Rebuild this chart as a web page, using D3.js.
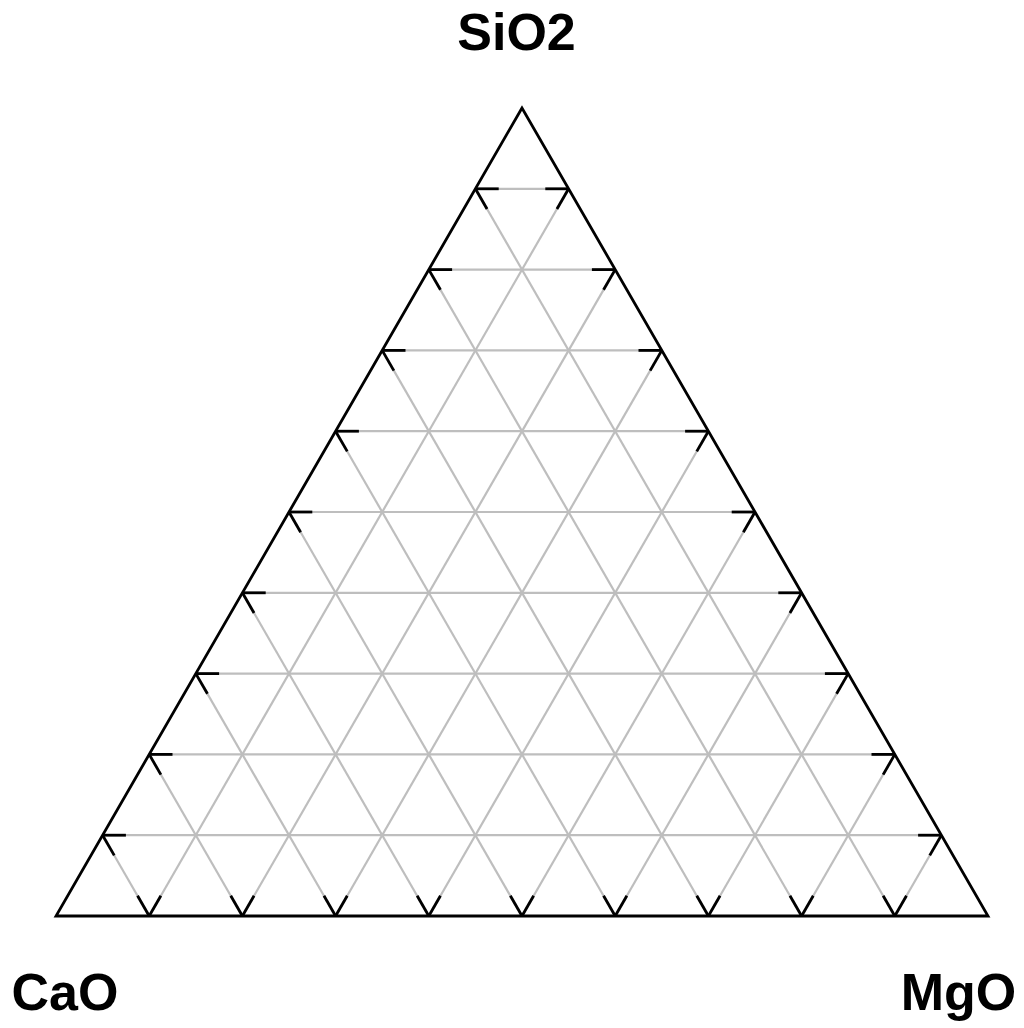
<!DOCTYPE html>
<html>
<head>
<meta charset="utf-8">
<script src="https://cdn.jsdelivr.net/npm/d3@7"></script>
<style>
  html, body { margin: 0; padding: 0; background: #fff; }
  svg { display: block; }
</style>
</head>
<body>
<div id="chart"></div>
<script>
// ternary axes: top, bottom-left, bottom-right
var axisNames = ["SiO2", "CaO", "MgO"];
var gridLevels = [0.1, 0.2, 0.3, 0.4, 0.5, 0.6, 0.7, 0.8, 0.9];
var tickLen = 0.025; // tick length as part of a side

var width = 1024, height = 1028;

var svg = d3.select("#chart").append("svg")
    .attr("width", width)
    .attr("height", height);

// x: position along base, y: SiO2 fraction
var x = d3.scaleLinear().domain([0, 1]).range([56, 988]);
var y = d3.scaleLinear().domain([0, 1]).range([916, 108]);

// p = [SiO2, CaO, MgO]
function pt(p) {
    var a = p[0], c = p[2];
    return [x(c + a / 2), y(a)];
}

var line = d3.line().x(function (d) { return pt(d)[0]; }).y(function (d) { return pt(d)[1]; });

// grid lines, each given by its two ends in ternary coords
var grid = [];
gridLevels.forEach(function (t) {
    grid.push([[t, 1 - t, 0], [t, 0, 1 - t]]);   // SiO2 = t
    grid.push([[1 - t, t, 0], [0, t, 1 - t]]);   // CaO = t
    grid.push([[1 - t, 0, t], [0, 1 - t, t]]);   // MgO = t
});

svg.append("g").selectAll("path")
    .data(grid)
    .enter().append("path")
    .attr("d", line)
    .attr("fill", "none")
    .attr("stroke", "#bebebe")
    .attr("stroke-width", 2.2);

// black ticks at both ends of every grid line, pointing inward
function toward(p, q, d) {
    var len = 0;
    for (var i = 0; i < 3; i++) len = Math.max(len, Math.abs(q[i] - p[i]));
    return [p[0] + (q[0] - p[0]) * d / len, p[1] + (q[1] - p[1]) * d / len, p[2] + (q[2] - p[2]) * d / len];
}
var ticks = [];
grid.forEach(function (g) {
    ticks.push([g[0], toward(g[0], g[1], tickLen)]);
    ticks.push([g[1], toward(g[1], g[0], tickLen)]);
});

svg.append("g").selectAll("path")
    .data(ticks)
    .enter().append("path")
    .attr("d", line)
    .attr("fill", "none")
    .attr("stroke", "#000")
    .attr("stroke-width", 2.8);

// outline
svg.append("path")
    .attr("d", line([[1, 0, 0], [0, 1, 0], [0, 0, 1]]) + "Z")
    .attr("fill", "none")
    .attr("stroke", "#000")
    .attr("stroke-width", 2.8)
    .attr("stroke-linejoin", "miter");

// vertex labels
var labelPos = [[516.5, 50], [65, 1010], [958.5, 1010]];
svg.append("g").selectAll("text")
    .data(axisNames)
    .enter().append("text")
    .attr("x", function (d, i) { return labelPos[i][0]; })
    .attr("y", function (d, i) { return labelPos[i][1]; })
    .attr("text-anchor", "middle")
    .style("font-family", "'Liberation Sans', Arial, sans-serif")
    .style("font-weight", "bold")
    .style("font-size", "52px")
    .text(function (d) { return d; });
</script>
</body>
</html>
